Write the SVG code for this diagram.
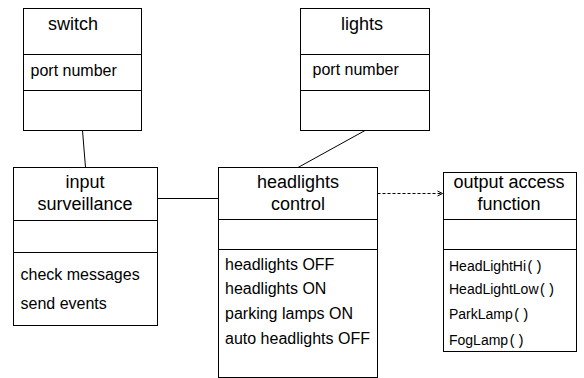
<svg xmlns="http://www.w3.org/2000/svg" width="584" height="378" viewBox="0 0 584 378">
  <style>
    .box { fill: #ffffff; stroke: #000000; stroke-width: 1; }
    .div { stroke: #000000; stroke-width: 1; }
    .title { font-family: "Liberation Sans", Arial, sans-serif; font-size: 18px; fill: #000000; text-anchor: middle; }
    .item { font-family: "Liberation Sans", Arial, sans-serif; font-size: 16px; fill: #000000; }
    .op { font-family: "Liberation Sans", Arial, sans-serif; font-size: 14px; fill: #000000; }
    .par { font-family: "Liberation Mono", "Courier New", monospace; font-size: 14px; }
    .link { stroke: #000000; stroke-width: 1; fill: none; }
    .dep { stroke: #000000; stroke-width: 1; fill: none; stroke-dasharray: 3 2; }
  </style>
  <defs>
    <marker id="open" markerWidth="8" markerHeight="8" refX="6" refY="4" orient="auto" markerUnits="userSpaceOnUse">
      <path d="M1,1.5 L6,4 L1,6.5" fill="none" stroke="#000000" stroke-width="1"/>
    </marker>
  </defs>

  <rect width="584" height="378" fill="#ffffff"/>

  <!-- connectors -->
  <g id="connectors">
    <line class="link" x1="82.5" y1="130.5" x2="85.5" y2="167.5"/>
    <line class="link" x1="365" y1="130.5" x2="298" y2="167.5"/>
    <line class="link" x1="157.5" y1="198.5" x2="218.5" y2="198.5"/>
    <line class="dep" x1="377.5" y1="193.5" x2="442.5" y2="193.5" marker-end="url(#open)"/>
  </g>

  <!-- switch -->
  <g id="switch">
    <rect class="box" x="23.5" y="8.5" width="118" height="122"/>
    <line class="div" x1="23.5" y1="54.5" x2="141.5" y2="54.5"/>
    <line class="div" x1="23.5" y1="90.5" x2="141.5" y2="90.5"/>
    <text class="title" x="73" y="30">switch</text>
    <text class="item" x="30.5" y="76">port number</text>
  </g>

  <!-- lights -->
  <g id="lights">
    <rect class="box" x="300.5" y="8.5" width="129" height="122"/>
    <line class="div" x1="300.5" y1="54.5" x2="429.5" y2="54.5"/>
    <line class="div" x1="300.5" y1="90.5" x2="429.5" y2="90.5"/>
    <text class="title" x="362" y="30">lights</text>
    <text class="item" x="312.5" y="75">port number</text>
  </g>

  <!-- input surveillance -->
  <g id="input-surveillance">
    <rect class="box" x="13.5" y="167.5" width="144" height="158"/>
    <line class="div" x1="13.5" y1="220.5" x2="157.5" y2="220.5"/>
    <line class="div" x1="13.5" y1="252.5" x2="157.5" y2="252.5"/>
    <text class="title" x="85" y="187.5">input</text>
    <text class="title" x="85" y="209.5">surveillance</text>
    <text class="item" x="20.5" y="279.5">check messages</text>
    <text class="item" x="20.5" y="308.5">send events</text>
  </g>

  <!-- headlights control -->
  <g id="headlights-control">
    <rect class="box" x="218.5" y="167.5" width="159" height="210"/>
    <line class="div" x1="218.5" y1="219.5" x2="377.5" y2="219.5" stroke-width="1.5"/>
    <line class="div" x1="218.5" y1="249.5" x2="377.5" y2="249.5"/>
    <text class="title" x="298" y="187.5">headlights</text>
    <text class="title" x="298" y="209.5">control</text>
    <text class="item" x="225" y="270">headlights OFF</text>
    <text class="item" x="225" y="294">headlights ON</text>
    <text class="item" x="225" y="318.5">parking lamps ON</text>
    <text class="item" x="225" y="343.5">auto headlights OFF</text>
  </g>

  <!-- output access function -->
  <g id="output-access-function">
    <rect class="box" x="443.5" y="172.5" width="133" height="179"/>
    <line class="div" x1="443.5" y1="219.5" x2="576.5" y2="219.5"/>
    <line class="div" x1="443.5" y1="249.5" x2="576.5" y2="249.5"/>
    <text class="title" x="509" y="187.5">output access</text>
    <text class="title" x="509" y="209.5">function</text>
    <text class="op" x="449" y="270.5">HeadLightHi<tspan class="par">()</tspan></text>
    <text class="op" x="449" y="294">HeadLightLow<tspan class="par">()</tspan></text>
    <text class="op" x="449" y="318.5">ParkLamp<tspan class="par">()</tspan></text>
    <text class="op" x="449" y="345">FogLamp<tspan class="par">()</tspan></text>
  </g>
</svg>
